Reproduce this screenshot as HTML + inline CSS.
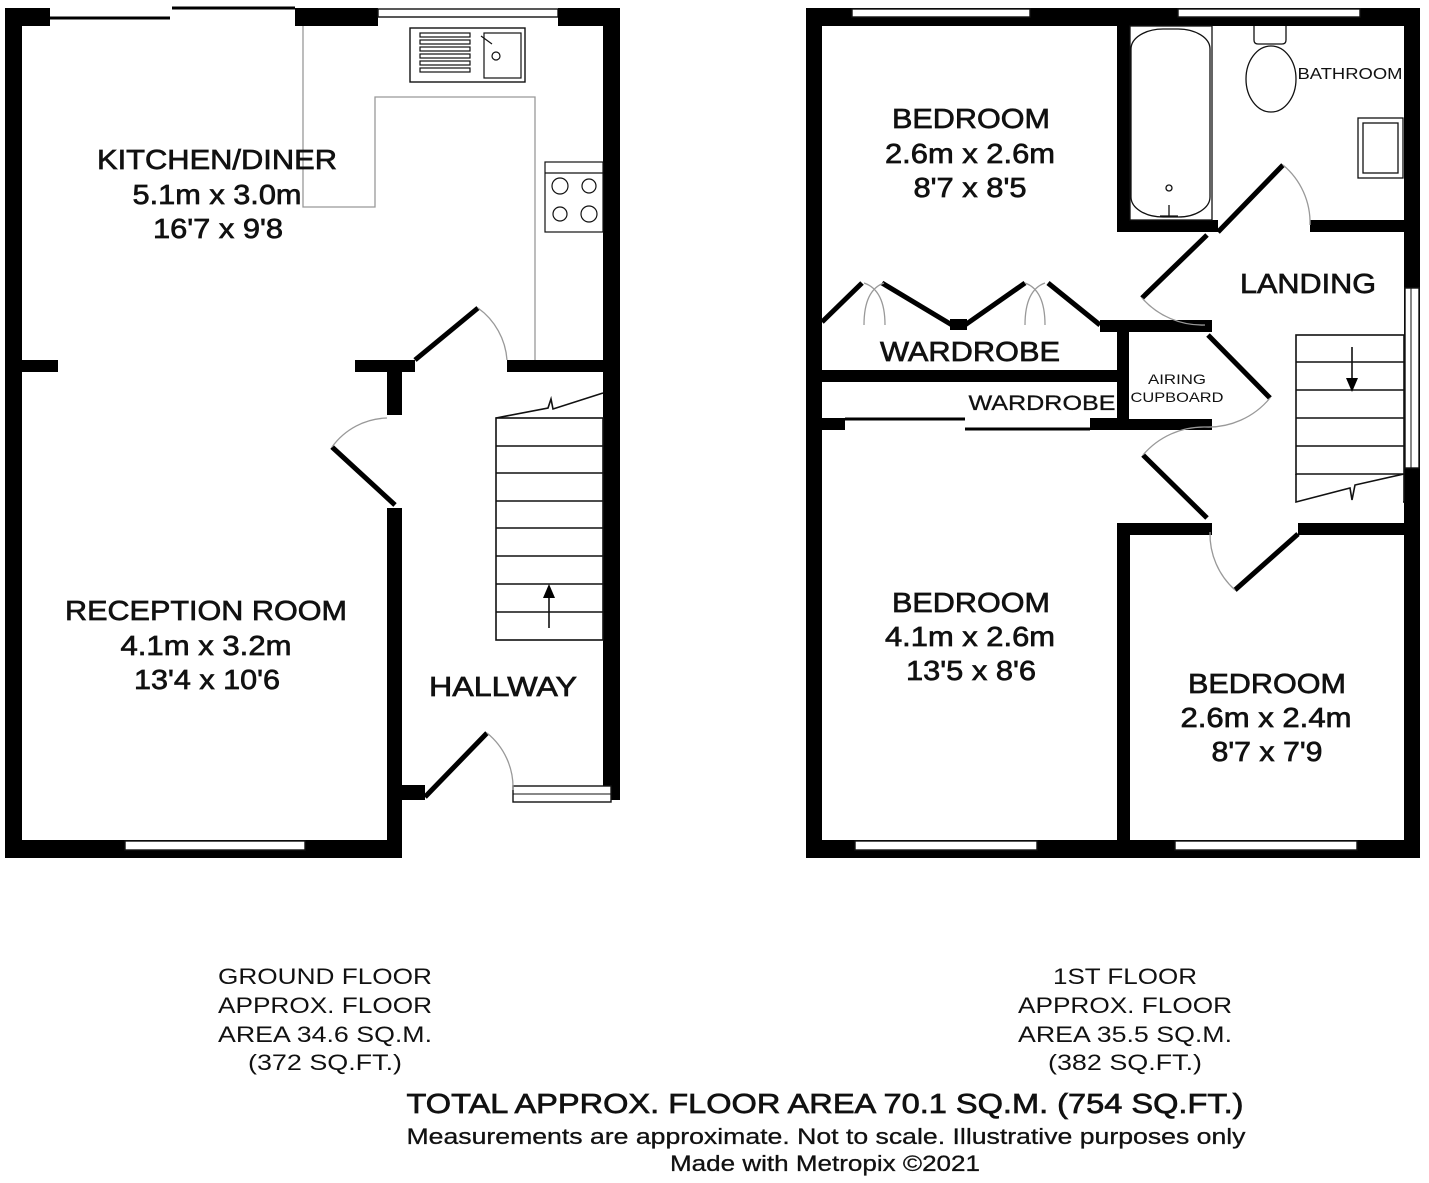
<!DOCTYPE html>
<html><head><meta charset="utf-8"><style>
html,body{margin:0;padding:0;background:#fff;}
svg{display:block;}
text{font-family:"Liberation Sans",Arial,sans-serif;fill:#111;text-anchor:middle;}
.r{font-size:28px;stroke:#111;stroke-width:0.7px;}
.b{fill:#000;}
.g{fill:none;stroke:#999;stroke-width:1.3;}
.t{fill:none;stroke:#111;stroke-width:1.6;}
.d{stroke:#000;stroke-width:5;fill:none;}
.w{fill:#fff;stroke:#111;stroke-width:1.4;}
</style></head><body>
<svg width="1429" height="1183" viewBox="0 0 1429 1183" xmlns="http://www.w3.org/2000/svg">
<!-- GROUND FLOOR -->
<rect class="b" x="5" y="8" width="17" height="850"/>
<rect class="b" x="5" y="8" width="45" height="18"/>
<line x1="50" y1="18" x2="170" y2="18" stroke="#000" stroke-width="3"/>
<line x1="172" y1="8" x2="295" y2="8" stroke="#000" stroke-width="3"/>
<rect class="b" x="295" y="8" width="83" height="18"/>
<rect class="w" x="378" y="9" width="180" height="8"/>
<rect class="b" x="558" y="8" width="62" height="18"/>
<rect class="b" x="603" y="8" width="17" height="792"/>
<rect class="b" x="5" y="840" width="397" height="18"/>
<rect class="w" x="125" y="841" width="180" height="9"/>
<rect class="b" x="22" y="360" width="36" height="12"/>
<rect class="b" x="355" y="360" width="60" height="12"/>
<rect class="b" x="507" y="360" width="97" height="12"/>
<rect class="b" x="387" y="372" width="15" height="43"/>
<rect class="b" x="387" y="508" width="15" height="350"/>
<rect class="b" x="387" y="785" width="38" height="15"/>
<rect class="w" x="513" y="786" width="98" height="16"/>
<line x1="513" y1="794" x2="611" y2="794" stroke="#111" stroke-width="1"/>
<line class="d" x1="415" y1="360" x2="478" y2="308"/>
<path class="g" d="M478 308 A70 70 0 0 1 507 360"/>
<line class="d" x1="332" y1="447" x2="395" y2="505"/>
<path class="g" d="M332 447 A70 70 0 0 1 387 418"/>
<line class="d" x1="425" y1="797" x2="487" y2="733"/>
<path class="g" d="M487 733 A70 70 0 0 1 513 790"/>
<path class="g" d="M303 26 V207 H375 V97 H535 V360"/>
<rect class="w" x="410" y="28" width="115" height="54"/>
<g stroke="#111" stroke-width="1.2" fill="none">
<rect x="420" y="33" width="50" height="4"/><rect x="420" y="40" width="50" height="4"/><rect x="420" y="47" width="50" height="4"/><rect x="420" y="54" width="50" height="4"/><rect x="420" y="61" width="50" height="4"/><rect x="420" y="68" width="50" height="4"/>
<rect x="484" y="33" width="37" height="45"/><circle cx="496" cy="56" r="4"/>
<line x1="481" y1="36" x2="492" y2="44"/>
<rect x="545" y="162" width="58" height="70" fill="#fff"/>
<circle cx="560" cy="186" r="8"/><circle cx="589" cy="186" r="7"/><circle cx="560" cy="214" r="7"/><circle cx="589" cy="214" r="8"/>
<line x1="545" y1="173" x2="603" y2="173"/>
</g>
<g class="t">
<rect x="496" y="418" width="107" height="222"/>
<line x1="496" y1="446" x2="603" y2="446"/><line x1="496" y1="473" x2="603" y2="473"/><line x1="496" y1="501" x2="603" y2="501"/><line x1="496" y1="528" x2="603" y2="528"/><line x1="496" y1="556" x2="603" y2="556"/><line x1="496" y1="584" x2="603" y2="584"/><line x1="496" y1="612" x2="603" y2="612"/>
<polyline points="496,418 548,408 551,399 553,409 603,393"/>
<line x1="549" y1="628" x2="549" y2="595"/>
</g>
<polygon points="549,584 543,598 555,598" fill="#000"/>
<text class="r" x="217" y="169" textLength="240" lengthAdjust="spacingAndGlyphs">KITCHEN/DINER</text>
<text class="r" x="217" y="204" textLength="169" lengthAdjust="spacingAndGlyphs">5.1m x 3.0m</text>
<text class="r" x="218" y="238" textLength="130" lengthAdjust="spacingAndGlyphs">16'7 x 9'8</text>
<text class="r" x="206" y="620" textLength="282" lengthAdjust="spacingAndGlyphs">RECEPTION ROOM</text>
<text class="r" x="206" y="655" textLength="171" lengthAdjust="spacingAndGlyphs">4.1m x 3.2m</text>
<text class="r" x="207" y="689" textLength="146" lengthAdjust="spacingAndGlyphs">13'4 x 10'6</text>
<text class="r" x="503" y="696" textLength="148" lengthAdjust="spacingAndGlyphs">HALLWAY</text>

<!-- FIRST FLOOR -->
<rect class="b" x="806" y="8" width="16" height="850"/>
<rect class="b" x="806" y="8" width="614" height="18"/>
<rect class="w" x="852" y="9" width="178" height="8"/>
<rect class="w" x="1178" y="9" width="182" height="8"/>
<rect class="b" x="1404" y="8" width="16" height="850"/>
<rect class="w" x="1405" y="288" width="14" height="180"/>
<line x1="1411" y1="288" x2="1411" y2="468" stroke="#111" stroke-width="1"/>
<rect class="b" x="806" y="840" width="614" height="18"/>
<rect class="w" x="855" y="841" width="182" height="9"/>
<rect class="w" x="1175" y="841" width="182" height="9"/>
<rect class="b" x="1117" y="26" width="13" height="206"/>
<rect class="b" x="1117" y="220" width="101" height="12"/>
<rect class="b" x="1310" y="220" width="95" height="12"/>
<g stroke="#111" stroke-width="1.3" fill="none">
<rect x="1130" y="26" width="82" height="194"/>
<rect x="1131" y="29" width="79" height="188" rx="32" ry="20"/>
<circle cx="1169" cy="188" r="3"/>
<line x1="1160" y1="216" x2="1178" y2="216"/><line x1="1169" y1="205" x2="1169" y2="216"/>
<path d="M1254 26 V40 Q1254 44 1258 44 H1282 Q1286 44 1286 40 V26"/>
<ellipse cx="1271" cy="79" rx="25" ry="33"/>
<rect x="1358" y="118" width="45" height="60"/>
<rect x="1363" y="123" width="35" height="50"/>
</g>
<line class="d" x1="1218" y1="232" x2="1283" y2="165"/>
<path class="g" d="M1283 165 A75 75 0 0 1 1310 225"/>
<rect class="b" x="1100" y="320" width="112" height="12"/>
<rect class="b" x="1117" y="320" width="12" height="110"/>
<rect class="b" x="1117" y="419" width="95" height="11"/>
<rect class="b" x="822" y="370" width="295" height="12"/>
<rect class="b" x="822" y="418" width="23" height="12"/>
<line x1="845" y1="419" x2="965" y2="419" stroke="#000" stroke-width="3"/>
<line x1="965" y1="429" x2="1090" y2="429" stroke="#000" stroke-width="3"/>
<rect class="b" x="1090" y="418" width="30" height="12"/>
<rect class="b" x="1117" y="523" width="95" height="12"/>
<rect class="b" x="1298" y="523" width="107" height="12"/>
<rect class="b" x="1117" y="523" width="13" height="335"/>
<line class="d" x1="1142" y1="298" x2="1207" y2="235"/>
<path class="g" d="M1142 298 A80 80 0 0 0 1205 325"/>
<line class="d" x1="1208" y1="335" x2="1270" y2="398"/>
<path class="g" d="M1270 398 A80 80 0 0 1 1205 427"/>
<line class="d" x1="1143" y1="455" x2="1207" y2="518"/>
<path class="g" d="M1143 455 A80 80 0 0 1 1205 427"/>
<line class="d" x1="1235" y1="590" x2="1298" y2="534"/>
<path class="g" d="M1210 532 A75 75 0 0 0 1235 590"/>
<line class="d" x1="822" y1="322" x2="862" y2="283"/>
<line class="d" x1="882" y1="283" x2="952" y2="325"/>
<rect class="b" x="950" y="319" width="17" height="11"/>
<line class="d" x1="965" y1="325" x2="1025" y2="283"/>
<line class="d" x1="1048" y1="283" x2="1100" y2="325"/>
<path class="g" d="M864 283 Q885 290 885 325 M884 283 Q864 290 864 325"/>
<path class="g" d="M1025 283 Q1045 290 1045 325 M1045 283 Q1025 290 1025 325"/>
<g class="t">
<rect x="1296" y="335" width="108" height="167" fill="none"/>
<line x1="1296" y1="362" x2="1404" y2="362"/><line x1="1296" y1="390" x2="1404" y2="390"/><line x1="1296" y1="418" x2="1404" y2="418"/><line x1="1296" y1="446" x2="1404" y2="446"/><line x1="1296" y1="474" x2="1404" y2="474"/>
<line x1="1352" y1="347" x2="1352" y2="378"/>
</g>
<rect x="1295" y="475" width="108" height="30" fill="#fff"/>
<polyline class="t" points="1296,474 1296,502 1350,488 1352,500 1355,485 1404,474"/>
<polygon points="1352,392 1346,378 1358,378" fill="#000"/>
<text class="r" x="971" y="128" textLength="158" lengthAdjust="spacingAndGlyphs">BEDROOM</text>
<text class="r" x="970" y="163" textLength="170" lengthAdjust="spacingAndGlyphs">2.6m x 2.6m</text>
<text class="r" x="970" y="197" textLength="113" lengthAdjust="spacingAndGlyphs">8'7 x 8'5</text>
<text x="1350" y="79" style="font-size:16px" textLength="105" lengthAdjust="spacingAndGlyphs">BATHROOM</text>
<text class="r" x="1308" y="293" textLength="136" lengthAdjust="spacingAndGlyphs">LANDING</text>
<text class="r" x="970" y="361" textLength="180" lengthAdjust="spacingAndGlyphs">WARDROBE</text>
<text x="1042" y="410" style="font-size:21px;stroke:#111;stroke-width:0.3px" textLength="147" lengthAdjust="spacingAndGlyphs">WARDROBE</text>
<text x="1177" y="384" style="font-size:14px" textLength="58" lengthAdjust="spacingAndGlyphs">AIRING</text>
<text x="1177" y="402" style="font-size:14px" textLength="93" lengthAdjust="spacingAndGlyphs">CUPBOARD</text>
<text class="r" x="971" y="612" textLength="158" lengthAdjust="spacingAndGlyphs">BEDROOM</text>
<text class="r" x="970" y="646" textLength="170" lengthAdjust="spacingAndGlyphs">4.1m x 2.6m</text>
<text class="r" x="971" y="680" textLength="130" lengthAdjust="spacingAndGlyphs">13'5 x 8'6</text>
<text class="r" x="1267" y="693" textLength="158" lengthAdjust="spacingAndGlyphs">BEDROOM</text>
<text class="r" x="1266" y="727" textLength="171" lengthAdjust="spacingAndGlyphs">2.6m x 2.4m</text>
<text class="r" x="1267" y="761" textLength="111" lengthAdjust="spacingAndGlyphs">8'7 x 7'9</text>

<g style="font-size:22px">
<text x="325" y="984" textLength="214" lengthAdjust="spacingAndGlyphs">GROUND FLOOR</text>
<text x="325" y="1013" textLength="214" lengthAdjust="spacingAndGlyphs">APPROX. FLOOR</text>
<text x="325" y="1042" textLength="214" lengthAdjust="spacingAndGlyphs">AREA 34.6 SQ.M.</text>
<text x="325" y="1070" textLength="154" lengthAdjust="spacingAndGlyphs">(372 SQ.FT.)</text>
<text x="1125" y="984" textLength="144" lengthAdjust="spacingAndGlyphs">1ST FLOOR</text>
<text x="1125" y="1013" textLength="214" lengthAdjust="spacingAndGlyphs">APPROX. FLOOR</text>
<text x="1125" y="1042" textLength="214" lengthAdjust="spacingAndGlyphs">AREA 35.5 SQ.M.</text>
<text x="1125" y="1070" textLength="154" lengthAdjust="spacingAndGlyphs">(382 SQ.FT.)</text>
</g>
<text x="825" y="1113" style="font-size:28px;stroke:#111;stroke-width:0.7px" textLength="837" lengthAdjust="spacingAndGlyphs">TOTAL APPROX. FLOOR AREA 70.1 SQ.M. (754 SQ.FT.)</text>
<text x="826" y="1144" style="font-size:22px;stroke:#111;stroke-width:0.3px" textLength="839" lengthAdjust="spacingAndGlyphs">Measurements are approximate.  Not to scale.  Illustrative purposes only</text>
<text x="825" y="1171" style="font-size:22px;stroke:#111;stroke-width:0.3px" textLength="310" lengthAdjust="spacingAndGlyphs">Made with Metropix ©2021</text>
</svg>
</body></html>
